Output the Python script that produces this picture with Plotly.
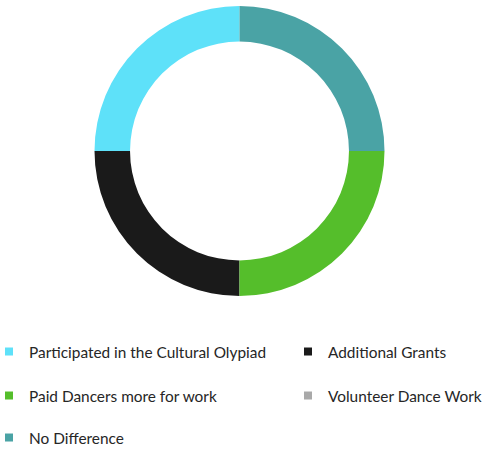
import plotly.graph_objects as go

labels = ["Participated in the Cultural Olypiad", "Additional Grants",
          "Paid Dancers more for work", "Volunteer Dance Work", "No Difference"]
values = [25, 25, 25, 0, 25]
colors = ["#5EE1F9", "#1A1A1A", "#55BE2B", "#A9A9A9", "#4AA3A5"]
# legend placement (pixel positions of each legend box: left, vertical centre)
legend_ids = ["legend", "legend2", "legend3", "legend4", "legend5"]
legend_px = [(-11, 352), (288, 352), (-11, 396), (288, 396), (-11, 438)]

W, H = 486, 449
fig = go.Figure()
fig.add_trace(go.Pie(
    labels=labels, values=values, hole=0.755, sort=False,
    direction="counterclockwise", rotation=-90,
    marker=dict(colors=colors, line=dict(width=0)),
    textinfo="none", hoverinfo="label+value", showlegend=False,
    domain=dict(x=[0, 479/W], y=[1-296/H, 1-6/H]),
))
for lab, col, lg in zip(labels, colors, legend_ids):
    fig.add_trace(go.Scatter(
        x=[None], y=[None], mode="markers", name=lab, legend=lg,
        marker=dict(symbol="square", size=8, color=col),
    ))

layout_legends = {}
for lg, (px, py) in zip(legend_ids, legend_px):
    layout_legends[lg] = dict(
        orientation="h", xanchor="left", yanchor="middle",
        x=px / W, y=1 - py / H,
        font=dict(family="Lato", size=15.4, color="#262626"),
        bgcolor="rgba(0,0,0,0)")

fig.update_layout(
    width=W, height=H, margin=dict(l=0, r=0, t=0, b=0, autoexpand=False),
    paper_bgcolor="white", plot_bgcolor="white",
    xaxis=dict(visible=False), yaxis=dict(visible=False),
    **layout_legends,
)
fig.write_html("out.html", config={"displayModeBar": False},
               post_script="document.body.style.margin='0px';")
